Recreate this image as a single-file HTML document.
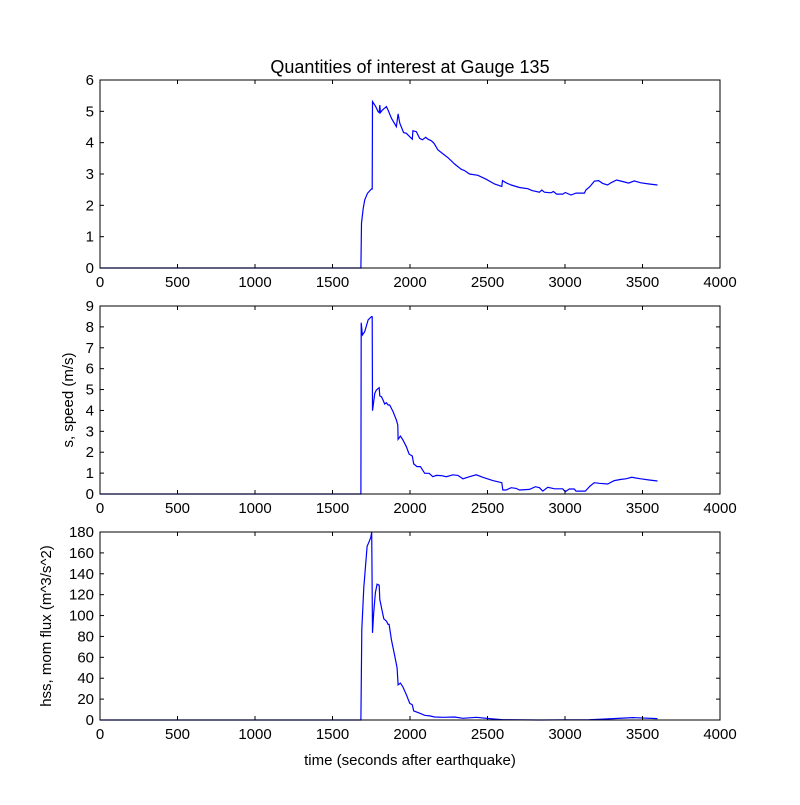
<!DOCTYPE html>
<html><head><meta charset="utf-8"><style>
body{margin:0;background:#fff}
svg text{font-family:"Liberation Sans",sans-serif;fill:#000}
</style></head><body>
<svg id="chart" width="800" height="800" viewBox="0 0 800 800" xmlns="http://www.w3.org/2000/svg">
<rect width="800" height="800" fill="#fff"/>
<text x="410" y="73" font-size="18" text-anchor="middle">Quantities of interest at Gauge 135</text>
<text transform="translate(73,400) rotate(-90)" font-size="15" text-anchor="middle">s, speed (m/s)</text>
<text transform="translate(51,626) rotate(-90)" font-size="15" text-anchor="middle">hss, mom flux (m^3/s^2)</text>
<text x="410" y="765" font-size="15" text-anchor="middle">time (seconds after earthquake)</text>
</svg>
<script>
const xTicks=[0,500,1000,1500,2000,2500,3000,3500,4000];
const t1=[0,1683,1687,1698,1708,1725,1751,1756,1758,1779,1794,1801,1805,1809,1822,1848,1859,1880,1912,1923,1934,1959,1977,1998,2015,2019,2041,2062,2080,2101,2116,2138,2155,2180,2213,2245,2288,2331,2352,2384,2438,2492,2545,2592,2597,2620,2653,2706,2760,2788,2835,2850,2867,2910,2925,2946,2985,3002,3039,3071,3125,3135,3161,3189,3217,3243,3275,3296,3333,3371,3410,3447,3489,3543,3597];
const v1=[0,0,1.43,1.90,2.17,2.38,2.52,2.52,5.31,5.15,4.99,4.96,5.20,4.96,5.04,5.15,5.04,4.78,4.51,4.92,4.62,4.32,4.30,4.19,4.11,4.38,4.35,4.14,4.09,4.17,4.11,4.06,3.98,3.77,3.64,3.52,3.32,3.15,3.11,3.00,2.96,2.83,2.68,2.60,2.79,2.72,2.65,2.57,2.53,2.47,2.42,2.49,2.42,2.40,2.44,2.36,2.36,2.41,2.33,2.39,2.39,2.49,2.60,2.77,2.79,2.70,2.65,2.72,2.81,2.76,2.71,2.78,2.72,2.68,2.65];
const t2=[0,1683,1685,1693,1708,1730,1751,1756,1758,1773,1783,1801,1805,1816,1826,1837,1848,1859,1869,1891,1912,1921,1923,1938,1955,1977,1994,2015,2024,2045,2067,2095,2123,2148,2170,2202,2234,2277,2309,2341,2384,2427,2470,2534,2592,2599,2620,2653,2685,2706,2771,2809,2835,2857,2889,2932,2985,3002,3028,3060,3071,3131,3161,3189,3221,3275,3318,3361,3393,3431,3489,3543,3597];
const v2=[0,0,8.20,7.61,7.77,8.33,8.49,8.49,3.99,4.82,4.98,5.09,4.69,4.66,4.50,4.31,4.37,4.26,4.26,3.94,3.54,3.30,2.62,2.77,2.58,2.26,1.91,1.82,1.44,1.31,1.31,0.99,0.99,0.83,0.89,0.88,0.83,0.92,0.89,0.73,0.83,0.92,0.80,0.64,0.54,0.19,0.19,0.30,0.27,0.19,0.22,0.35,0.30,0.14,0.32,0.25,0.25,0.11,0.24,0.24,0.14,0.14,0.38,0.54,0.51,0.48,0.64,0.70,0.73,0.80,0.73,0.67,0.62];
const t3=[0,1683,1689,1702,1723,1736,1747,1753,1758,1766,1777,1788,1801,1805,1816,1831,1848,1859,1865,1880,1902,1917,1923,1938,1955,1977,1998,2015,2024,2052,2095,2127,2159,2213,2288,2341,2427,2513,2599,2835,3157,3264,3436,3597];
const v3=[0,0,86.7,126.8,166.2,170.7,174.9,180,83.4,102.7,122,130,129,115.5,107.5,96.9,94.7,91.5,91.5,77,61,49.8,33.7,35.3,31.5,24.1,16.1,14.5,8.7,7.1,4.5,3.9,2.9,2.6,2.9,1.6,2.6,1.3,0.3,0,0.3,1,2.3,1.3];
const yTicks1=[0,1,2,3,4,5,6];
const yTicks2=[0,1,2,3,4,5,6,7,8,9];
const yTicks3=[0,20,40,60,80,100,120,140,160,180];
const NS="http://www.w3.org/2000/svg";
const svg=document.getElementById('chart');
const X0=100,X1=720;
function sx(t){return X0+(t-0)/4000*(X1-X0);}
function mk(tag,attrs){const e=document.createElementNS(NS,tag);for(const k in attrs)e.setAttribute(k,attrs[k]);return e;}
function panel(name,top,bot,ymax,yt,ts,vs){
  const sy=v=>bot-(v/ymax)*(bot-top);
  const g=mk('g',{});
  
  
  svg.appendChild(g);
  const d=ts.map((t,i)=>(i?'L':'M')+sx(t).toFixed(1)+','+sy(vs[i]).toFixed(1)).join('');
  const line=mk('path',{d:d,fill:'none',stroke:'#0000ff','stroke-width':1.2});
  
  
  g.appendChild(line);
  const frame=mk('rect',{x:X0,y:top,width:X1-X0,height:bot-top,fill:'none',stroke:'#000','stroke-width':1});
  
  
  g.appendChild(frame);
  xTicks.forEach(t=>{
    const x=sx(t);
    g.appendChild(mk('line',{x1:x,y1:bot,x2:x,y2:bot-4,stroke:'#000'}));
    g.appendChild(mk('line',{x1:x,y1:top,x2:x,y2:top+4,stroke:'#000'}));
    const tx=mk('text',{x:x,y:bot+19,'font-size':15,'text-anchor':'middle'});
    tx.textContent=t;
    
    
    g.appendChild(tx);
  });
  yt.forEach(v=>{
    const y=sy(v);
    g.appendChild(mk('line',{x1:X0,y1:y,x2:X0+4,y2:y,stroke:'#000'}));
    g.appendChild(mk('line',{x1:X1,y1:y,x2:X1-4,y2:y,stroke:'#000'}));
    const tx=mk('text',{x:X0-6,y:y+5,'font-size':15,'text-anchor':'end'});
    tx.textContent=v;
    
    
    g.appendChild(tx);
  });
}
panel('height-panel',80,268,6,yTicks1,t1,v1);
panel('speed-panel',306,494,9,yTicks2,t2,v2);
panel('flux-panel',532,720,180,yTicks3,t3,v3);
</script>
</body></html>
